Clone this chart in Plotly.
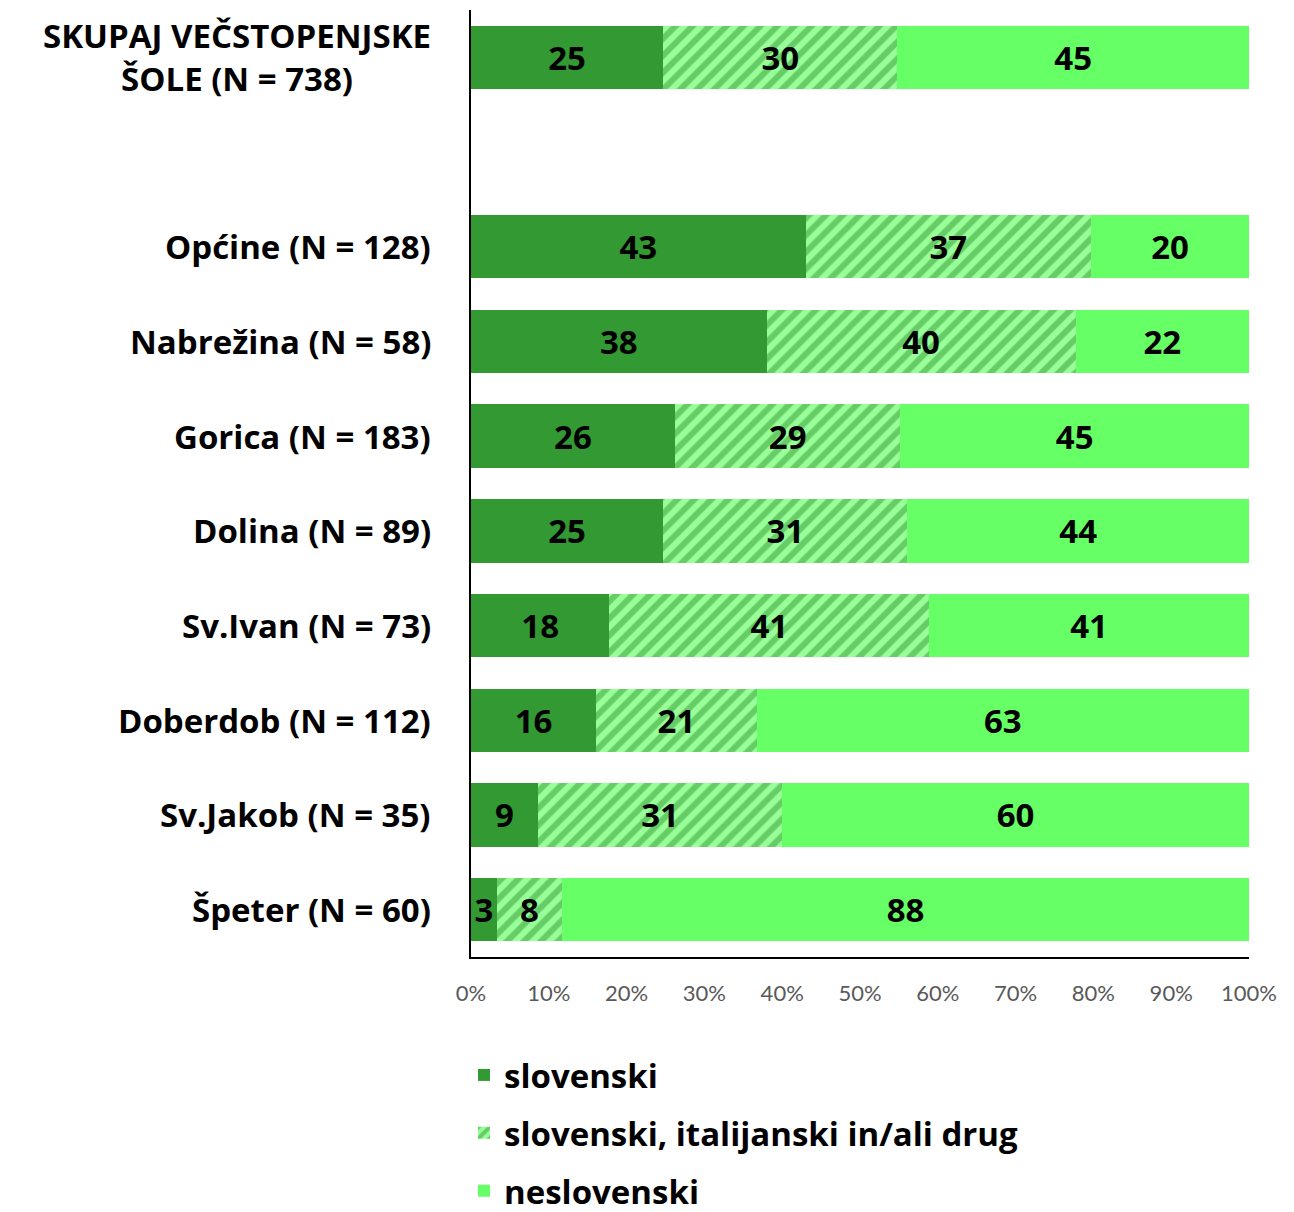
import plotly.graph_objects as go

# categories, top to bottom (blank slot separates the total from schools)
categories = [
    "SKUPAJ VEČSTOPENJSKE<br>ŠOLE (N = 738)",
    " ",
    "Općine (N = 128)",
    "Nabrežina (N = 58)",
    "Gorica (N = 183)",
    "Dolina (N = 89)",
    "Sv.Ivan (N = 73)",
    "Doberdob (N = 112)",
    "Sv.Jakob (N = 35)",
    "Špeter (N = 60)",
]

slovenski = [24.7, None, 43.0, 38.0, 26.2, 24.7, 17.8, 16.1, 8.6, 3.3]
mesano = [30.1, None, 36.7, 39.7, 29.0, 31.4, 41.1, 20.6, 31.4, 8.4]
neslovenski = [45.2, None, 20.3, 22.3, 44.8, 43.9, 41.1, 63.3, 60.0, 88.3]

x_ticks = list(range(0, 101, 10))
x_tick_labels = [f"{v}%" for v in x_ticks]

FONT = "'Open Sans', Lato, sans-serif"
TICK_FONT = "Lato, 'Open Sans', sans-serif"
DARK = "#339933"
LIGHT = "#66FF66"
HATCH_BG = "#99FF99"
LABEL_SIZE = 33

fig = go.Figure()

common = dict(
    y=categories, orientation="h",
    texttemplate="<b>%{x:.0f}</b>", textposition="inside",
    insidetextanchor="middle", textangle=0, constraintext="none",
    textfont=dict(family=FONT, size=LABEL_SIZE, color="#000000"),
    hoverinfo="skip",
)

fig.add_trace(go.Bar(x=slovenski, name="slovenski", legendgroup="a",
                     marker=dict(color=DARK, line=dict(width=0)), **common))
fig.add_trace(go.Bar(x=mesano, name="slovenski, italijanski in/ali drug", legendgroup="b",
                     marker=dict(color=HATCH_BG, line=dict(width=0),
                                 pattern=dict(shape="/", fgcolor=DARK, bgcolor=HATCH_BG,
                                              size=12, solidity=0.5)),
                     **common))
fig.add_trace(go.Bar(x=neslovenski, name="neslovenski", legendgroup="c",
                     marker=dict(color=LIGHT, line=dict(width=0)), **common))

# category labels (left of the axis)
for cat in categories:
    if cat.strip():
        fig.add_annotation(x=0, xref="paper", y=cat, yref="y", text=f"<b>{cat}</b>",
                           showarrow=False, xanchor="right", xshift=-38, align="center",
                           font=dict(family=FONT, size=LABEL_SIZE, color="#000000"))

fig.update_layout(
    barmode="stack",
    bargap=0.33,
    width=1294, height=1212,
    paper_bgcolor="white", plot_bgcolor="white",
    margin=dict(l=463, r=53, t=2, b=263, autoexpand=False),
    font=dict(family=FONT, color="#000000"),
    legend=dict(
        orientation="v", x=-0.009, xanchor="left", y=-0.095, yanchor="top",
        font=dict(family=FONT, size=LABEL_SIZE, color="#000000", weight="bold"),
        tracegroupgap=12, itemwidth=30,
    ),
    showlegend=True,
)
fig.update_xaxes(range=[0, 100], tickmode="array", tickvals=x_ticks, ticktext=x_tick_labels,
                 showgrid=False, zeroline=False, showline=True, linecolor="#000000",
                 linewidth=2, ticks="", ticklabelstandoff=16,
                 tickfont=dict(family=TICK_FONT, size=22, color="#595959"))
fig.update_yaxes(autorange="reversed", showticklabels=False, showgrid=False,
                 showline=True, linecolor="#000000", linewidth=2, ticks="")

fig.write_html("out.html")
